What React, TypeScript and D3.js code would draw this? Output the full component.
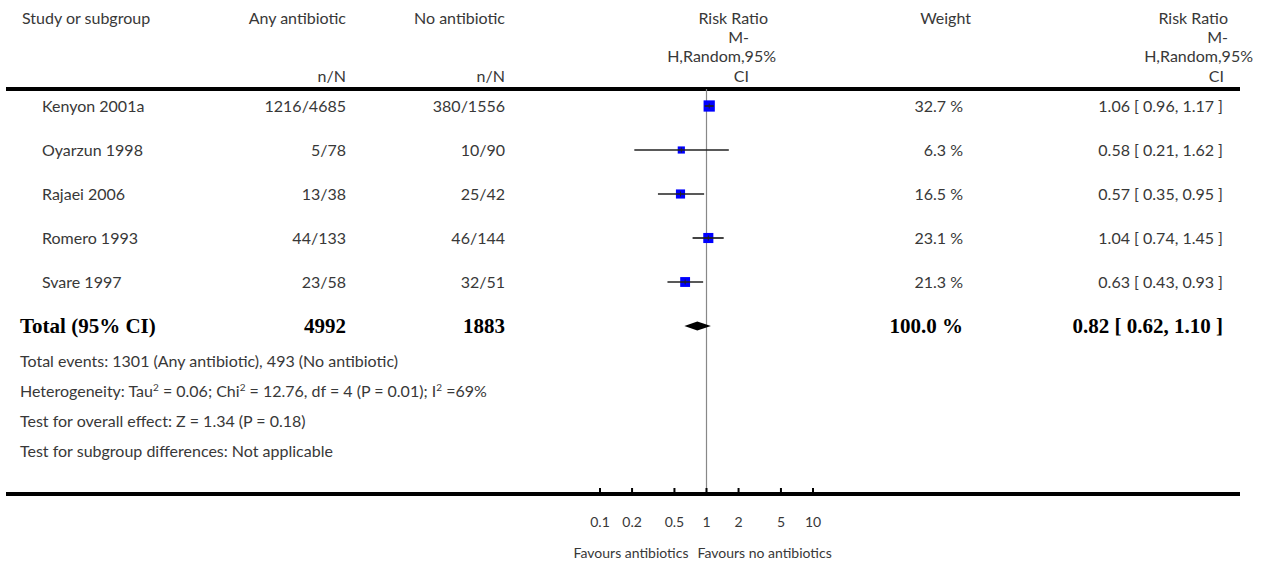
import React from "react";
import * as d3 from "d3";

const studies = ["Kenyon 2001a", "Oyarzun 1998", "Rajaei 2006", "Romero 1993", "Svare 1997"];
const anyAntibiotic = ["1216/4685", "5/78", "13/38", "44/133", "23/58"];
const noAntibiotic = ["380/1556", "10/90", "25/42", "46/144", "32/51"];
const riskRatio = [1.06, 0.58, 0.57, 1.04, 0.63];
const ciLow = [0.96, 0.21, 0.35, 0.74, 0.43];
const ciHigh = [1.17, 1.62, 0.95, 1.45, 0.93];
const weights = [32.7, 6.3, 16.5, 23.1, 21.3];

const totalLabel = "Total (95% CI)";
const totalAny = "4992";
const totalNo = "1883";
const totalWeight = 100.0;
const totalRR = 0.82;
const totalLow = 0.62;
const totalHigh = 1.1;

const axisTicks = [0.1, 0.2, 0.5, 1, 2, 5, 10];
const tickLabels = ["0.1", "0.2", "0.5", "1", "2", "5", "10"];
const favoursLeft = "Favours antibiotics";
const favoursRight = "Favours no antibiotics";

const SANS = "Lato, 'Open Sans', sans-serif";
const SERIF = "'Liberation Serif', 'DejaVu Serif', serif";
const TXT = "#383838";

export default function App() {
  const W = 1268, H = 564;
  const x = d3.scaleLog().domain([0.1, 10]).range([600, 813]);
  const rowY = d3.scalePoint<string>().domain([...studies, totalLabel]).range([106, 326]);
  const size = d3.scaleSqrt().domain([0, 35]).range([4, 11.5]);
  const fmt2 = d3.format(".2f");
  const fmt1 = d3.format(".1f");
  const ciText = (r: number, l: number, h: number) => `${fmt2(r)} [ ${fmt2(l)}, ${fmt2(h)} ]`;

  const colAny = 346, colNo = 505, colW = 963, colCI = 1223;
  const footer = [361, 391, 421, 451];
  const axisY = 494, topLineY = 89;
  const lineL = 6, lineR = 1240;
  const diamondY = rowY(totalLabel)!;
  const supStyle = { fontSize: 10 } as React.CSSProperties;

  return (
    <svg width={W} height={H} style={{ position: "absolute", left: 0, top: 0, background: "#fff" }}>
      <g fontFamily={SANS} fontSize={16} fill={TXT}>
        {/* headers */}
        <text x={22} y={18} dy="0.35em">Study or subgroup</text>
        <text x={colAny} y={18} dy="0.35em" textAnchor="end">Any antibiotic</text>
        <text x={colAny} y={76} dy="0.35em" textAnchor="end">n/N</text>
        <text x={colNo} y={18} dy="0.35em" textAnchor="end">No antibiotic</text>
        <text x={colNo} y={76} dy="0.35em" textAnchor="end">n/N</text>
        <text x={768} y={18} dy="0.35em" textAnchor="end">Risk Ratio</text>
        <text x={749} y={37} dy="0.35em" textAnchor="end">M-</text>
        <text x={776} y={56} dy="0.35em" textAnchor="end">H,Random,95%</text>
        <text x={749} y={76} dy="0.35em" textAnchor="end">CI</text>
        <text x={971} y={18} dy="0.35em" textAnchor="end">Weight</text>
        <text x={1228} y={18} dy="0.35em" textAnchor="end">Risk Ratio</text>
        <text x={1228} y={37} dy="0.35em" textAnchor="end">M-</text>
        <text x={1253} y={56} dy="0.35em" textAnchor="end">H,Random,95%</text>
        <text x={1224} y={76} dy="0.35em" textAnchor="end">CI</text>
      </g>
      <line x1={lineL} x2={lineR} y1={topLineY} y2={topLineY} stroke="#000" strokeWidth={4} />

      {/* reference line */}
      <line x1={x(1)} x2={x(1)} y1={topLineY} y2={axisY} stroke="#888" strokeWidth={1.2} />

      {/* study rows */}
      <g fontFamily={SANS} fontSize={16} fill={TXT}>
        {studies.map((s, i) => {
          const y = rowY(s)!;
          return (
            <g key={s}>
              <text x={42} y={y} dy="0.35em">{s}</text>
              <text x={colAny} y={y} dy="0.35em" textAnchor="end">{anyAntibiotic[i]}</text>
              <text x={colNo} y={y} dy="0.35em" textAnchor="end">{noAntibiotic[i]}</text>
              <text x={colW} y={y} dy="0.35em" textAnchor="end">{fmt1(weights[i])} %</text>
              <text x={colCI} y={y} dy="0.35em" textAnchor="end">{ciText(riskRatio[i], ciLow[i], ciHigh[i])}</text>
            </g>
          );
        })}
      </g>

      {/* markers */}
      {studies.map((s, i) => {
        const y = rowY(s)!;
        const sz = size(weights[i]);
        return (
          <g key={s + "m"}>
            <rect x={x(riskRatio[i]) - sz / 2} y={y - sz / 2} width={sz} height={sz} fill="#0000ff" />
            <line x1={x(ciLow[i])} x2={x(ciHigh[i])} y1={y} y2={y} stroke="#222" strokeWidth={1.7} />
            <line x1={x(riskRatio[i])} x2={x(riskRatio[i])} y1={y - 2.5} y2={y + 2.5} stroke="#222" strokeWidth={1} />
          </g>
        );
      })}

      {/* total */}
      <g fontFamily={SERIF} fontSize={21} fontWeight="bold" fill="#000">
        <text x={20} y={diamondY} dy="0.35em">{totalLabel}</text>
        <text x={colAny} y={diamondY} dy="0.35em" textAnchor="end">{totalAny}</text>
        <text x={colNo} y={diamondY} dy="0.35em" textAnchor="end">{totalNo}</text>
        <text x={colW} y={diamondY} dy="0.35em" textAnchor="end">{fmt1(totalWeight)} %</text>
        <text x={colCI} y={diamondY} dy="0.35em" textAnchor="end">{ciText(totalRR, totalLow, totalHigh)}</text>
      </g>
      <path
        d={`M${x(totalLow)},${diamondY} L${x(totalRR)},${diamondY - 4.6} L${x(totalHigh)},${diamondY} L${x(totalRR)},${diamondY + 4.6} Z`}
        fill="#000"
      />

      {/* footer */}
      <g fontFamily={SANS} fontSize={16} fill={TXT}>
        <text x={20} y={footer[0]} dy="0.35em">Total events: 1301 (Any antibiotic), 493 (No antibiotic)</text>
        <text x={20} y={footer[1]} dy="0.35em">
          Heterogeneity: Tau<tspan dy="-6" style={supStyle}>2</tspan>
          <tspan dy="6"> = 0.06; Chi</tspan><tspan dy="-6" style={supStyle}>2</tspan>
          <tspan dy="6"> = 12.76, df = 4 (P = 0.01); I</tspan><tspan dy="-6" style={supStyle}>2</tspan>
          <tspan dy="6"> =69%</tspan>
        </text>
        <text x={20} y={footer[2]} dy="0.35em">Test for overall effect: Z = 1.34 (P = 0.18)</text>
        <text x={20} y={footer[3]} dy="0.35em">Test for subgroup differences: Not applicable</text>
      </g>

      {/* axis */}
      <line x1={lineL} x2={lineR} y1={axisY} y2={axisY} stroke="#000" strokeWidth={4} />
      {axisTicks.map((t, i) => (
        <g key={t}>
          <line x1={x(t)} x2={x(t)} y1={axisY - 6} y2={axisY} stroke="#000" strokeWidth={2} />
          <text x={x(t)} y={522} dy="0.35em" textAnchor="middle" fontFamily={SANS} fontSize={14} fill={TXT}>{tickLabels[i]}</text>
        </g>
      ))}
      <text x={x(1) - 18} y={553} dy="0.35em" textAnchor="end" fontFamily={SANS} fontSize={14} fill={TXT}>{favoursLeft}</text>
      <text x={x(1) - 9} y={553} dy="0.35em" textAnchor="start" fontFamily={SANS} fontSize={14} fill={TXT}>{favoursRight}</text>
    </svg>
  );
}
